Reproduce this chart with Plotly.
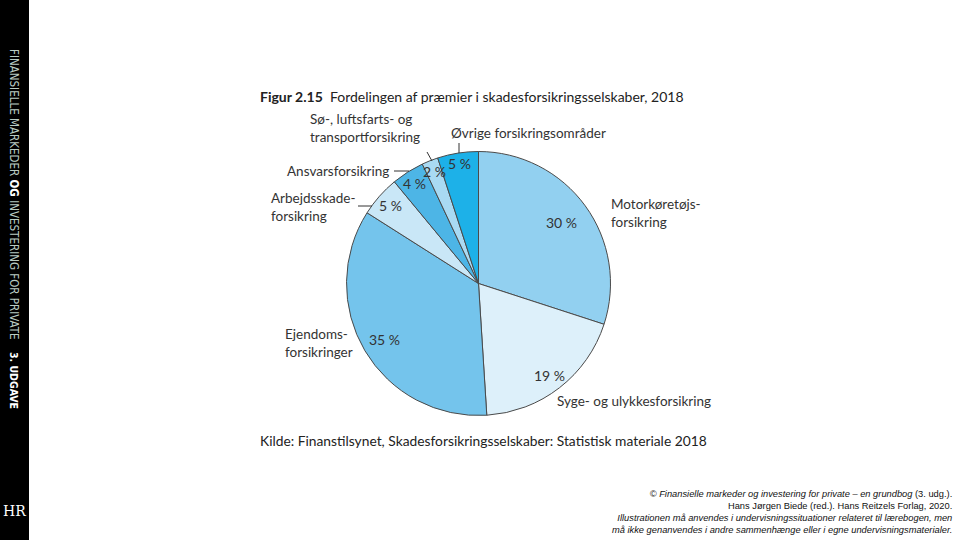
import math
import plotly.graph_objects as go

# ---- data ----
categories = ["Motorkøretøjsforsikring", "Syge- og ulykkesforsikring", "Ejendomsforsikringer",
              "Arbejdsskadeforsikring", "Ansvarsforsikring", "Sø-, luftsfarts- og transportforsikring",
              "Øvrige forsikringsområder"]
shares = [30, 19, 35, 5, 4, 2, 5]
display_labels = ["Motorkøretøjs-<br>forsikring", "Syge- og ulykkesforsikring", "Ejendoms-<br>forsikringer",
                  "Arbejdsskade-<br>forsikring", "Ansvarsforsikring", "Sø-, luftsfarts- og<br>transportforsikring",
                  "Øvrige forsikringsområder"]
title_bold = "Figur 2.15"
title_text = "Fordelingen af præmier i skadesforsikringsselskaber, 2018"
source_text = "Kilde: Finanstilsynet, Skadesforsikringsselskaber: Statistisk materiale 2018"

# ---- style ----
colors = ["#92d0f0", "#ddf0fa", "#74c4ec", "#c9e7f7", "#4db5e6", "#a9daf3", "#1db1e8"]
W, H = 960, 540
cx, cy, R = 478.5, 283.5, 132
label_rf = [0.78, 0.88, 0.83, 0.89, 0.90, 0.91, 0.92]
label_pos = [(609, 213, "left"), (555, 401, "left"), (283, 343, "left"), (269, 207, "left"),
             (285, 171, "left"), (308, 128, "left"), (449, 133, "left")]
FONT = "Lato"
TXT = "#333333"

def px(x):
    return x / W

def py(y):
    return 1 - y / H

fig = go.Figure(go.Pie(
    labels=categories, values=shares, sort=False, direction="clockwise", rotation=0,
    marker=dict(colors=colors, line=dict(color="#4a4a4a", width=1)),
    textinfo="none", hoverinfo="label+percent", showlegend=False,
    domain=dict(x=[px(cx - R), px(cx + R)], y=[py(cy + R), py(cy - R)]),
))

ann = []
total = sum(shares)
cum = 0
for v, rf in zip(shares, label_rf):
    mid = (cum + v / 2) / total * 2 * math.pi
    cum += v
    x = cx + R * rf * math.sin(mid)
    y = cy - R * rf * math.cos(mid)
    ann.append(dict(x=px(x), y=py(y), xref="paper", yref="paper", text=f"{v} %", showarrow=False,
                    font=dict(family=FONT, size=14, color=TXT), xanchor="center", yanchor="middle"))

for txt, (x, y, al) in zip(display_labels, label_pos):
    ann.append(dict(x=px(x), y=py(y), xref="paper", yref="paper", text=txt, showarrow=False,
                    align=al, xanchor="left", yanchor="middle",
                    font=dict(family=FONT, size=13.5, color=TXT)))

ann.append(dict(x=px(258), y=py(97), xref="paper", yref="paper",
                text=f"<b>{title_bold}</b>  {title_text}", showarrow=False, xanchor="left", yanchor="middle",
                font=dict(family=FONT, size=14, color="#222222")))
ann.append(dict(x=px(258), y=py(440), xref="paper", yref="paper", text=source_text, showarrow=False,
                xanchor="left", yanchor="middle", font=dict(family=FONT, size=13.8, color="#222222")))

# sidebar texts
ann.append(dict(x=px(14), y=py(194), xref="paper", yref="paper", textangle=90,
                text="FINANSIELLE MARKEDER <span style='color:#ffffff'><b>OG</b></span> INVESTERING FOR PRIVATE",
                showarrow=False, xanchor="center", yanchor="middle",
                font=dict(family="DejaVu Sans Condensed", size=11.5, color="#b9cbc3")))
ann.append(dict(x=px(14), y=py(380), xref="paper", yref="paper", textangle=90, text="<b>3. UDGAVE</b>",
                showarrow=False, xanchor="center", yanchor="middle",
                font=dict(family="DejaVu Sans Condensed", size=10.5, color="#ffffff")))
ann.append(dict(x=px(14), y=py(511), xref="paper", yref="paper", text="HR", showarrow=False,
                xanchor="center", yanchor="middle",
                font=dict(family="DejaVu Serif", size=14, color="#ffffff")))

# footer
footer = ("<i>© Finansielle markeder og investering for private – en grundbog</i> (3. udg.).<br>"
          "Hans Jørgen Biede (red.). Hans Reitzels Forlag, 2020.<br>"
          "<i>Illustrationen må anvendes i undervisningssituationer relateret til lærebogen, men<br>"
          "må ikke genanvendes i andre sammenhænge eller i egne undervisningsmaterialer.</i>")
ann.append(dict(x=px(954), y=py(512), xref="paper", yref="paper", text=footer, showarrow=False,
                align="right", xanchor="right", yanchor="middle",
                font=dict(family="Liberation Sans", size=9.3, color="#111111")))

shapes = [dict(type="rect", xref="paper", yref="paper", x0=0, x1=px(29), y0=0, y1=1,
               fillcolor="#000000", line=dict(width=0), layer="below")]
leaders = [((358, 206), (372, 206)), ((394, 171), (409, 171)), ((427, 152), (432, 161)),
           ((459, 143), (459, 153))]
for (x0, y0), (x1, y1) in leaders:
    shapes.append(dict(type="line", xref="paper", yref="paper", x0=px(x0), y0=py(y0), x1=px(x1), y1=py(y1),
                       line=dict(color="#333333", width=1)))

fig.update_layout(width=W, height=H, margin=dict(l=0, r=0, t=0, b=0), paper_bgcolor="#ffffff",
                  plot_bgcolor="#ffffff", annotations=ann, shapes=shapes)
fig.write_html("out.html", config={"displayModeBar": False},
               post_script="document.body.style.margin='0';document.body.style.overflow='hidden';")
